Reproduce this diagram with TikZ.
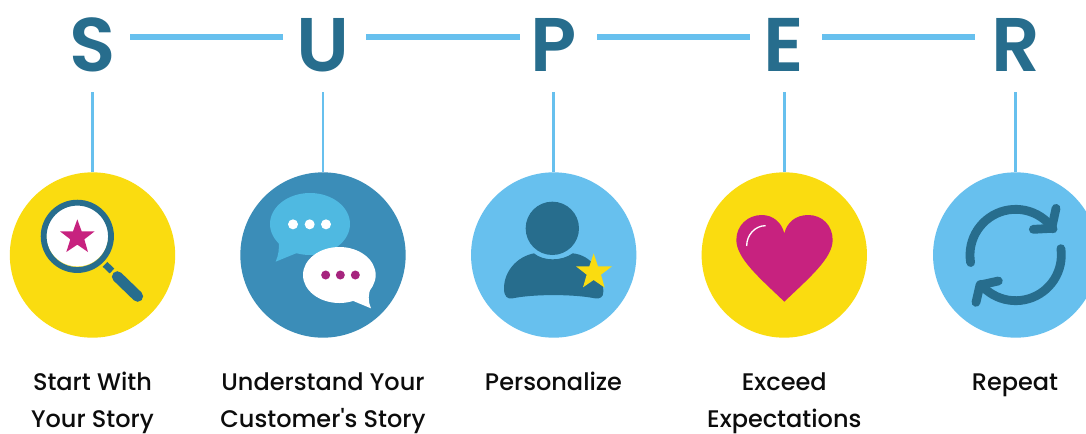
\documentclass[tikz,border=0pt]{standalone}
\usepackage{fontspec}
\setmainfont{Poppins}
\newfontfamily\capfont{Poppins Medium}
\newfontfamily\letfont{Poppins SemiBold}
\definecolor{deep}{HTML}{276D8D}
\definecolor{sky}{HTML}{67C0EE}
\definecolor{sun}{HTML}{FADC10}
\definecolor{ocean}{HTML}{3B8DB8}
\definecolor{bubble}{HTML}{4FB9E1}
\definecolor{rose}{HTML}{C7227F}
\definecolor{plum}{HTML}{A6247E}
\definecolor{ink}{HTML}{0C0C0C}
\tikzset{
  bigletter/.style={text=deep,inner sep=0pt,font=\fontsize{57}{57}\selectfont\letfont},
  disc/.style={circle,minimum size=124pt,inner sep=0pt,draw=none},
  caption/.style={text=ink,inner sep=0pt,anchor=north,align=center,font=\fontsize{18}{27.8}\selectfont\capfont},
  hlink/.style={draw=sky,line width=4pt},
  vlink/.style={draw=sky,line width=1.9pt},
  zoomA/.style={shift={(0,160)},x=.25pt,y=-.25pt},
  zoomB/.style={shift={(460,160)},x=.25pt,y=-.25pt},
  zoomC/.style={shift={(900,160)},x=.25pt,y=-.25pt},
  roundstroke/.style={draw=deep,line cap=round,line join=round,fill=none},
}
\begin{document}
\begin{tikzpicture}[x=.75pt,y=-.75pt]
\useasboundingbox (0,0) rectangle (1086,433);
\clip (0,0) rectangle (1086,433);
\fill[white] (0,0) rectangle (1086,433);
% letters
\node[bigletter] (S) at (92.5,45) {S};
\node[bigletter] (U) at (323,45) {U};
\node[bigletter] (P) at (553.5,45) {P};
\node[bigletter] (E) at (784,45) {E};
\node[bigletter] (R) at (1016,45) {R};
% link ends
\foreach \n/\a/\b in {a/130/283,b/366/520,c/597/750,d/822/975}{
  \coordinate (\n1) at (\a,37);
  \coordinate (\n2) at (\b,37);
  \draw[hlink] (\n1) -- (\n2);
}
% discs
\node[disc,fill=sun] (d1) at (92.5,255) {};
\node[disc,fill=ocean] (d2) at (323,255) {};
\node[disc,fill=sky] (d3) at (553.7,255) {};
\node[disc,fill=sun] (d4) at (784.3,255) {};
\node[disc,fill=sky] (d5) at (1015.7,255) {};
\coordinate (v1) at (92.5,92);
\coordinate (v2) at (323,92);
\coordinate (v3) at (553.7,92);
\coordinate (v4) at (784.3,92);
\coordinate (v5) at (1015.7,92);
\foreach \i in {1,...,5}{\draw[vlink] (v\i) -- (d\i.north);}
% magnifier
\begin{scope}[zoomA]
\fill[sun!80!white] (232,229) circle (95);
\fill[white] (232,226) circle (93);
\draw[deep,line width=4.4pt] (232,229) circle (101);
\fill[rose] (232,178) -- (245,214) -- (284,214) -- (253,238) -- (264,276) -- (232,254) -- (199,276) -- (211,238) -- (180,214) -- (219,214) -- cycle;
\draw[deep,line width=5pt] (315,313) -- (336,333);
\draw[roundstroke,line width=8.2pt] (352,350) -- (413,409);
\end{scope}
% speech bubbles
\begin{scope}[zoomA]
\fill[bubble] (930,192) ellipse (120 and 93);
\fill[bubble] (836,245) .. controls (838,265) and (836,285) .. (827,305) -- (888,280) -- (930,270) -- cycle;
\foreach \x in {879,929,978}{\fill[white] (\x,193) circle (15);}
\fill[white] (1018,345) ellipse (109 and 84);
\fill[white] (1115,380) .. controls (1103,400) and (1104,425) .. (1113,445) -- (1060,423) -- (1020,400) -- cycle;
\foreach \x in {977,1021,1066}{\fill[plum] (\x,345) circle (13.5);}
\end{scope}
% person
\begin{scope}[zoomB]
\fill[deep] (277,205) circle (80);
\fill[deep] (222,280) .. controls (250,304) and (305,304) .. (338,280)
  .. controls (395,285) and (430,340) .. (430,395)
  .. controls (430,412) and (420,417) .. (405,415)
  .. controls (340,402) and (220,402) .. (158,415)
  .. controls (142,418) and (132,410) .. (132,385)
  .. controls (132,335) and (170,290) .. (222,280) -- cycle;
\fill[sun] (401,280) -- (414,319) -- (456,319) -- (423,344) -- (434,383) -- (401,360) -- (369,382) -- (380,344) -- (348,319) -- (388,319) -- cycle;
\end{scope}
% heart
\begin{scope}[zoomB]
\fill[rose] (973,425) .. controls (900,355) and (829,295) .. (829,240)
  .. controls (829,195) and (865,165) .. (905,165)
  .. controls (940,165) and (965,188) .. (973,220)
  .. controls (981,188) and (1006,165) .. (1045,165)
  .. controls (1085,165) and (1118,195) .. (1118,240)
  .. controls (1118,295) and (1046,355) .. (973,425) -- cycle;
\draw[white,line width=1pt] (860,258) .. controls (860,225) and (885,197) .. (917,197);
\end{scope}
% repeat
\begin{scope}[zoomC]
\draw[roundstroke,line width=6.6pt] plot[smooth,domain=189.5:35,samples=30] ({347+137*cos(\x)},{285-137*sin(\x)});
\draw[roundstroke,line width=6.6pt] (468,145) -- (455,205) -- (400,208);
\draw[roundstroke,line width=6.6pt] plot[smooth,domain=8:-140,samples=30] ({347+137*cos(\x)},{285-137*sin(\x)});
\draw[roundstroke,line width=6.6pt] (295,363) -- (240,375) -- (228,427);
\end{scope}
% captions
\node[caption] (t1) at (92.5,372) {Start With\\Your Story};
\node[caption] (t2) at (323,372) {Understand Your\\Customer\symbol{39}s Story};
\node[caption] (t3) at (553.5,372) {Personalize};
\node[caption] (t4) at (784.3,372) {Exceed\\Expectations};
\node[caption] (t5) at (1015,373.5) {Repeat};
\end{tikzpicture}
\end{document}
